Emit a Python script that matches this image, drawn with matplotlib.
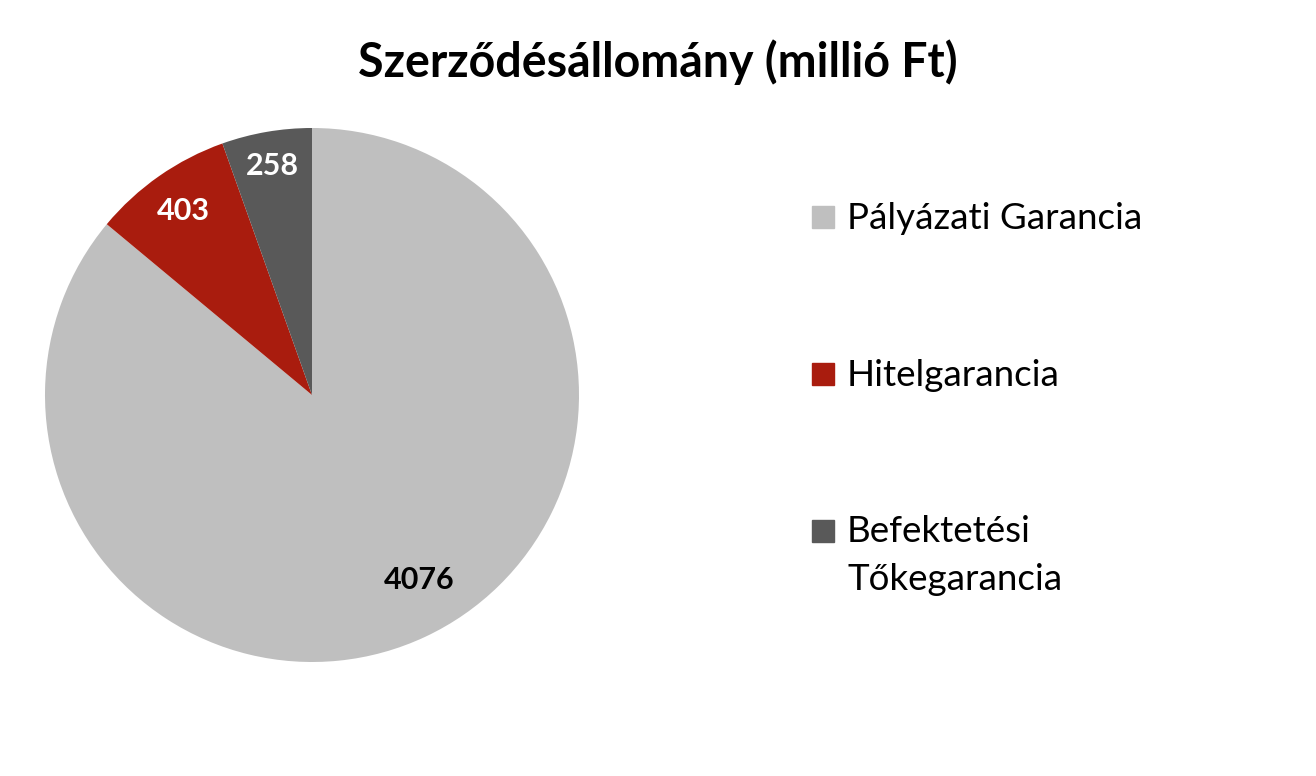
import numpy as np
import matplotlib.pyplot as plt
from matplotlib.patches import Rectangle

categories = ["Pályázati Garancia", "Hitelgarancia", "Befektetési\nTőkegarancia"]
values = [4076, 403, 258]
colors = ["#BFBFBF", "#A91C0E", "#595959"]
label_colors = ["black", "white", "white"]
label_radius = [0.80, 0.84, 0.87]
label_shift = [5, 0, 0]  # degrees

plt.rcParams['font.family'] = ['Lato', 'DejaVu Sans']

W, H = 1316, 776
fig = plt.figure(figsize=(W / 100, H / 100), dpi=100)

cx, cy, r = 312, 395, 267
ax = fig.add_axes([(cx - r) / W, (H - cy - r) / H, 2 * r / W, 2 * r / H])
wedges, _ = ax.pie(values, colors=colors, startangle=90, counterclock=False,
                   radius=1.0, wedgeprops=dict(linewidth=0))
ax.set_xlim(-1, 1)
ax.set_ylim(-1, 1)
ax.set_aspect('equal')

for w, v, c, rr, sh in zip(wedges, values, label_colors, label_radius, label_shift):
    ang = np.deg2rad((w.theta1 + w.theta2) / 2 + sh)
    ax.text(rr * np.cos(ang), rr * np.sin(ang), str(v), ha='center', va='center',
            fontsize=22, fontweight='bold', color=c)

fig.text(0.5, 1 - 77 / H, "Szerződésállomány (millió Ft)", ha='center', va='baseline',
         fontsize=33.5, fontweight='bold')

# legend drawn by hand
ys = [217, 374, 530.5]
sq = 22
for lab, col, y in zip(categories, colors, ys):
    fig.patches.append(Rectangle((812 / W, 1 - (y + sq / 2) / H), sq / W, sq / H,
                                 transform=fig.transFigure, color=col))
    fig.text(847 / W, 1 - (y - 15) / H, lab, ha='left', va='top', fontsize=26.5,
             linespacing=1.55)

fig.savefig("out.png", dpi=100)
